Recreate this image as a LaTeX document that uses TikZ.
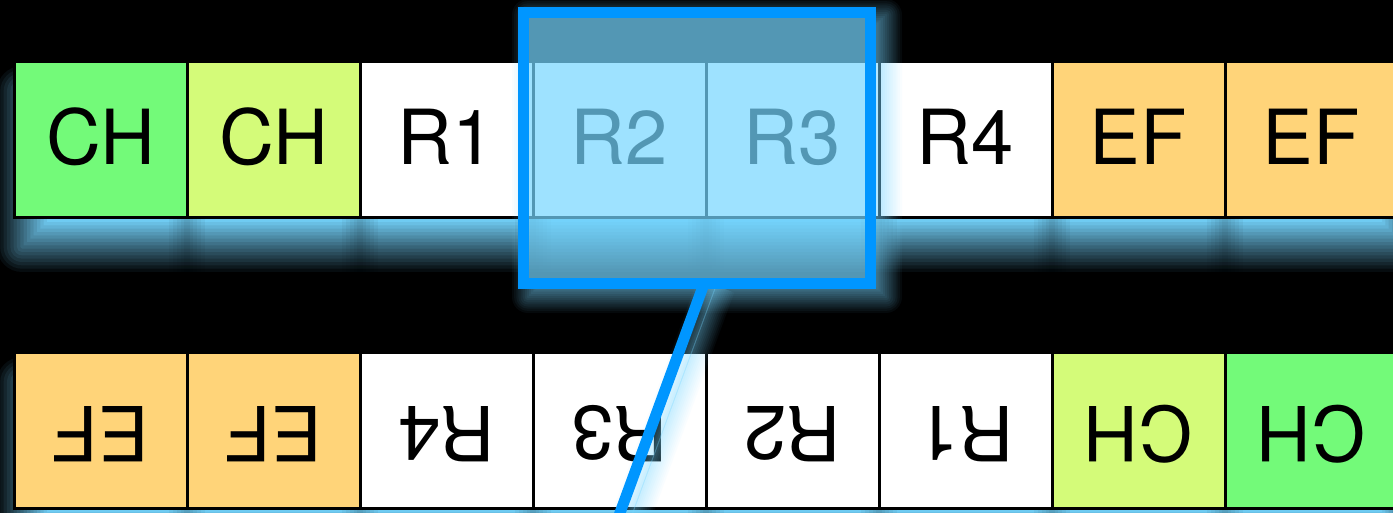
\documentclass[tikz,border=0pt]{standalone}
\usepackage{fontspec}
\setmainfont{TeX Gyre Heros}
\usetikzlibrary{calc}
\definecolor{flora}{HTML}{73FA79}
\definecolor{honeydew}{HTML}{D4FB79}
\definecolor{cantaloupe}{HTML}{FFD479}
\definecolor{aqua}{HTML}{0096FF}
\definecolor{sky}{HTML}{76D6FF}
% blurred glow of a box: x1,y1,x2,y2,radius,opacity,corner rounding factor
\newcommand\cellglow[7]{%
  \begin{scope}[opacity=#6, transparency group]
    \foreach \k in {1,...,16}{
      \pgfmathsetmacro\gE{#5*(1-2*(\k-1)/15)}
      \pgfmathsetmacro\gOp{1/(17-\k)}
      \pgfmathsetmacro\gRc{max(#7*\gE,0.01)}
      \pgfmathsetmacro\gXa{#1-\gE}
      \pgfmathsetmacro\gYa{#2-\gE}
      \pgfmathsetmacro\gXb{#3+\gE}
      \pgfmathsetmacro\gYb{#4+\gE}
      \fill[sky, fill opacity=\gOp, rounded corners=\gRc pt]
        (\gXa,\gYa) rectangle (\gXb,\gYb);
    }
  \end{scope}}
% soft dark band in a glow: centre x, y1, y2
\newcommand\glowgap[3]{%
  \foreach \w in {36,28,20,12,6}{
    \fill[black, fill opacity=0.045] ({#1-\w/2},#2) rectangle ({#1+\w/2},#3);
  }}
\tikzset{
  cellbox/.style={draw=black, line width=3pt, minimum width=173pt, minimum height=156pt,
    inner sep=0pt, outer sep=0pt, text height=54.6pt, text depth=6pt,
    font=\fontsize{76}{80}\selectfont},
  selbox/.style={draw=aqua, line width=11pt, fill=sky, fill opacity=0.706,
    minimum width=346.8pt, minimum height=271.1pt, inner sep=0pt, outer sep=0pt},
  connector/.style={draw=aqua, line width=11pt},
}
\begin{document}
\begin{tikzpicture}[x=1pt,y=-1pt]
\useasboundingbox (0,0) rectangle (1393,513);
\fill[black] (0,0) rectangle (1393,513);
\clip (0,0) rectangle (1393,513);
% glows of the two rows
\cellglow{22}{91}{1407}{247}{25}{0.95}{1}
\cellglow{22}{382}{1407}{537}{25}{0.95}{1}
\foreach \i in {1,...,7}{
  \glowgap{14+173*\i}{218}{280}
  \glowgap{14+173*\i}{509}{513}
}
% top row
\foreach \i/\col/\lbl in {1/flora/CH,2/honeydew/CH,3/white/R1,4/white/R2,5/white/R3,6/white/R4,7/cantaloupe/EF,8/cantaloupe/EF}
  \node[cellbox, fill=\col] (t\i) at ({14+173*(\i-0.5)},140) {\lbl};
% bottom row (rotated)
\foreach \i/\col/\lbl in {1/cantaloupe/EF,2/cantaloupe/EF,3/white/R4,4/white/R3,5/white/R2,6/white/R1,7/honeydew/CH,8/flora/CH}
  \node[cellbox, fill=\col, rotate=180] (b\i) at ({14+173*(\i-0.5)},430.5) {\lbl};
% connector end points
\coordinate (lstart) at (704,283.8);
\coordinate (lend) at (602.7,560);
% glows of the selection box and the connector
\begin{scope}
  \clip (0,0)--(1393,0)--(1393,513)--(0,513)--cycle (518,7)--(518,289)--(876,289)--(876,7)--cycle;
  \cellglow{528}{15}{886}{297}{16}{0.7}{1}
  \begin{scope}[opacity=0.6, transparency group]
    \foreach \k in {1,...,16}{
      \pgfmathsetmacro\gW{max(11+28*(1-2*(\k-1)/15),0.5)}
      \pgfmathsetmacro\gOp{1/(17-\k)}
      \draw[sky, draw opacity=\gOp, line width=\gW pt] ($(lstart)+(12,2)$) -- ($(lend)+(12,2)$);
    }
  \end{scope}
\end{scope}
% selection box
\node[selbox] (sel) at (696.9,148.25) {};
\draw[connector] (lstart) -- (lend);
\end{tikzpicture}
\end{document}
